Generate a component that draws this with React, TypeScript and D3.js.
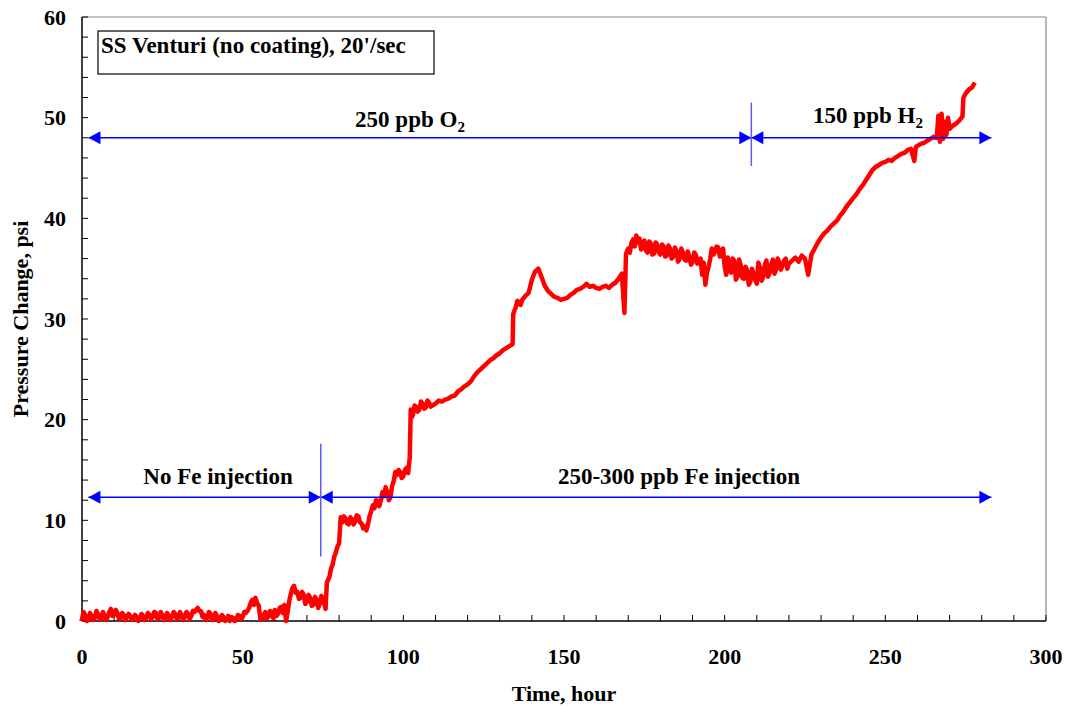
import React from "react";
import * as d3 from "d3";

const pressureSeries: [number, number][] = [
  [0, 0.2], [0.5, 0.9], [1, 0.6], [1.5, 0.0], [2, 0.1], [2.5, 0.8], [3, 0.5], [3.5, 0.1], [4, 0.3], [4.5, 1.0],
  [5, 0.7], [5.5, 0.2], [6, 0.2], [6.5, 0.9], [7, 0.5], [7.5, 0.1], [8, 0.4], [8.5, 0.9], [9, 1.2], [9.5, 0.5],
  [10, 0.6], [10.5, 1.1], [11, 0.8], [11.5, 0.2], [12, 0.3], [12.5, 0.8], [13, 0.6], [13.5, 0.1], [14, 0.4], [14.5, 0.7],
  [15, 0.5], [15.5, 0.1], [16, 0.3], [16.5, 0.6], [17, 0.4], [17.5, 0.0], [18, 0.2], [18.5, 0.7], [19, 0.5], [19.5, 0.1],
  [20, 0.3], [20.5, 0.8], [21, 0.6], [21.5, 0.2], [22, 0.4], [22.5, 0.9], [23, 0.8], [23.5, 0.2], [24, 0.3], [24.5, 0.9],
  [25, 0.6], [25.5, 0.1], [26, 0.2], [26.5, 0.8], [27, 0.5], [27.5, 0.1], [28, 0.4], [28.5, 0.9], [29, 0.7], [29.5, 0.2],
  [30, 0.3], [30.5, 0.9], [31, 0.6], [31.5, 0.1], [32, 0.4], [32.5, 0.9], [33, 0.7], [33.5, 0.2], [34, 0.5], [34.5, 1.0],
  [35, 0.9], [35.5, 1.1], [36, 1.3], [36.5, 1.0], [37, 1.0], [37.5, 0.4], [38, 0.6], [38.5, 0.1], [39, 0.3], [39.5, 0.9],
  [40, 0.7], [40.5, 0.1], [41, 0.2], [41.5, 0.8], [42, 0.5], [42.5, 0.0], [43, 0.1], [43.5, 0.6], [44, 0.4], [44.5, 0.0],
  [45, 0.2], [45.5, 0.5], [46, 0.0], [46.5, 0.4], [47, 0.3], [47.5, 0.0], [48, 0.1], [48.5, 0.6], [49, 0.5], [49.5, 0.2],
  [50, 0.4], [50.5, 0.9], [51, 0.8], [51.5, 1.0], [52, 1.3], [52.5, 1.8], [53, 2.1], [53.5, 1.6], [54, 2.3], [54.5, 1.8],
  [55, 1.5], [55.5, 0.2], [56, 0.6], [56.5, 0.2], [57, 0.9], [57.5, 0.3], [58, 0.4], [58.5, 1.0], [59, 0.8], [59.5, 0.3],
  [60, 1.1], [60.5, 0.5], [61, 0.7], [61.5, 1.3], [62, 1.4], [62.5, 0.8], [63, 1.6], [63.5, 0.0], [64, 0.9], [64.5, 2.0],
  [65, 2.7], [65.5, 3.3], [66, 3.5], [66.5, 2.8], [67, 2.9], [67.5, 2.2], [68, 2.3], [68.5, 2.9], [69, 2.6], [69.5, 1.7],
  [70, 1.9], [70.5, 2.6], [71, 2.3], [71.5, 1.5], [72, 1.6], [72.5, 2.4], [73, 2.1], [73.5, 1.3], [74, 1.7], [74.5, 2.5],
  [75, 2.2], [75.8, 1.2], [76.2, 3.8], [77, 4.4], [77.5, 5.2], [78, 5.6], [78.5, 6.4], [79, 6.8], [79.5, 7.4], [80, 7.7],
  [80.5, 10.3], [81, 9.8], [81.5, 10.4], [82, 10.2], [82.5, 9.7], [83, 9.6], [83.5, 10.3], [84, 10.1], [84.5, 9.6], [85, 9.9],
  [85.5, 10.5], [86, 10.4], [86.5, 9.8], [87, 9.7], [87.5, 9.2], [88, 9.4], [88.5, 9.0], [89, 9.6], [89.5, 10.4], [90, 10.9],
  [90.5, 11.5], [91, 11.2], [91.5, 12.0], [92, 11.9], [92.5, 11.4], [93, 12.0], [93.5, 12.8], [94, 12.4], [94.5, 13.3], [95, 12.8],
  [95.5, 12.0], [96, 12.3], [96.5, 13.4], [97, 13.9], [97.5, 14.8], [98, 14.5], [98.5, 15.0], [99, 14.8], [99.5, 14.2], [100, 14.4],
  [100.5, 15.0], [101, 15.2], [101.5, 14.7], [102, 16.3], [102.3, 21.0], [102.6, 20.2], [103, 20.5], [103.5, 21.4], [104, 21.3], [104.5, 20.8],
  [105, 21.0], [105.5, 21.8], [106, 21.6], [106.5, 21.1], [107, 21.2], [107.5, 21.9], [108, 21.7], [108.5, 21.3], [109, 21.4], [110, 21.6],
  [111, 21.9], [112, 21.8], [113, 22.0], [114, 22.1], [115, 22.3], [116, 22.4], [117, 22.8], [118, 23.0], [119, 23.3], [120, 23.5],
  [121, 23.8], [122, 24.3], [123, 24.7], [124, 25.0], [125, 25.3], [126, 25.6], [127, 25.9], [128, 26.1], [129, 26.4], [130, 26.6],
  [131, 26.9], [132, 27.1], [133, 27.3], [134, 27.5], [134.2, 30.5], [135, 31.2], [135.5, 31.8], [136, 31.7], [136.5, 31.4], [137, 31.9],
  [138, 32.3], [139, 32.6], [140, 33.9], [141, 34.7], [142, 35.0], [143, 34.2], [144, 33.3], [145, 32.8], [146, 32.5], [147, 32.2],
  [148, 32.1], [149, 31.9], [150, 32.0], [151, 32.1], [152, 32.4], [153, 32.6], [154, 32.9], [155, 33.0], [156, 33.2], [157, 33.5],
  [158, 33.2], [159, 33.3], [160, 33.1], [161, 33.0], [162, 33.2], [163, 33.3], [164, 33.1], [165, 33.4], [166, 33.6], [167, 34.0],
  [168, 34.5], [168.8, 30.6], [169.3, 36.5], [170, 37.0], [170.5, 36.6], [171, 37.6], [171.5, 37.9], [172, 37.2], [172.5, 38.3], [173, 37.6],
  [173.5, 38.0], [174, 36.9], [174.5, 37.2], [175, 37.8], [175.5, 36.8], [176, 36.6], [176.5, 37.7], [177, 37.5], [177.5, 36.4], [178, 36.5],
  [178.5, 37.6], [179, 37.4], [179.5, 36.6], [180, 36.4], [180.5, 37.4], [181, 37.2], [181.5, 36.2], [182, 36.3], [182.5, 37.3], [183, 37.0],
  [183.5, 36.0], [184, 36.2], [184.5, 37.1], [185, 36.8], [185.5, 35.7], [186, 36.0], [186.5, 37.0], [187, 36.6], [187.5, 35.9], [188, 35.8],
  [188.5, 36.7], [189, 36.2], [189.5, 35.4], [190, 35.6], [190.5, 36.6], [191, 36.4], [191.5, 35.5], [192, 35.9], [192.5, 36.0], [193, 34.4],
  [193.5, 35.6], [194, 33.4], [194.5, 34.6], [195, 35.2], [195.5, 36.0], [196, 37.0], [196.5, 36.4], [197, 36.7], [197.5, 37.2], [198, 37.1],
  [198.5, 36.2], [199, 36.6], [199.5, 37.0], [200, 35.2], [200.5, 34.4], [201, 36.1], [201.5, 35.2], [202, 34.6], [202.5, 36.0], [203, 35.8],
  [203.5, 33.9], [204, 34.2], [204.5, 35.9], [205, 35.3], [205.5, 34.1], [206, 34.0], [206.5, 35.2], [207, 34.8], [207.5, 33.4], [208, 33.7],
  [208.5, 35.0], [209, 34.5], [209.5, 33.9], [210, 33.5], [210.5, 35.6], [211, 35.1], [211.5, 33.8], [212, 34.2], [212.5, 35.4], [213, 35.8],
  [213.5, 34.2], [214, 34.6], [214.5, 35.4], [215, 35.9], [215.5, 34.5], [216, 34.9], [216.5, 36.0], [217, 35.6], [217.5, 34.9], [218, 35.3],
  [218.5, 35.8], [219, 36.0], [219.5, 35.0], [220, 35.5], [221, 35.8], [222, 36.1], [223, 35.7], [224, 36.3], [225, 36.0], [226, 34.4],
  [227, 36.4], [228, 37.0], [229, 37.6], [230, 38.1], [231, 38.5], [232, 38.8], [233, 39.2], [234, 39.5], [235, 39.8], [236, 40.3],
  [237, 40.7], [238, 41.2], [239, 41.6], [240, 42.0], [241, 42.4], [242, 42.9], [243, 43.3], [244, 43.8], [245, 44.3], [246, 44.8],
  [247, 45.1], [248, 45.3], [249, 45.5], [250, 45.6], [251, 45.8], [252, 45.7], [253, 46.0], [254, 46.2], [255, 46.4], [256, 46.5],
  [257, 46.8], [258, 46.9], [259, 45.7], [259.5, 47.1], [260, 47.2], [261, 47.4], [262, 47.5], [263, 47.7], [264, 47.9], [265, 48.1],
  [266, 48.0], [266.5, 50.2], [267, 47.6], [267.5, 50.4], [268, 47.9], [268.5, 49.6], [269, 48.3], [269.5, 50.0], [270, 48.9], [271, 49.2],
  [272, 49.4], [273, 49.7], [274, 50.1], [274.3, 52.0], [275, 52.4], [276, 52.8], [277, 53.0], [277.5, 53.3],
];

const xTicks = [0, 50, 100, 150, 200, 250, 300];
const yTicks = [0, 10, 20, 30, 40, 50, 60];

// annotation spans: [start, end, level]
const spanO2: [number, number, number] = [2, 208.3, 48];
const spanH2: [number, number, number] = [208.3, 283, 48];
const spanNoFe: [number, number, number] = [2, 74.3, 12.3];
const spanFe: [number, number, number] = [74.3, 283, 12.3];
const dividerO2: [number, number, number] = [208.3, 45.2, 51.5];
const dividerFe: [number, number, number] = [74.3, 6.4, 17.6];

const legendLabel = "SS Venturi (no coating), 20'/sec";

export default function App() {
  const W = 1067, H = 707;
  const x = d3.scaleLinear().domain([0, 300]).range([82, 1046]);
  const y = d3.scaleLinear().domain([0, 60]).range([621, 17]);
  const line = d3.line<[number, number]>().x(d => x(d[0])).y(d => y(d[1]));
  const font = "'Liberation Serif', 'Times New Roman', serif";
  const blue = "#0000ff";
  const lightBlue = "#5a5aff";

  const arrowHead = (tipX: number, tipY: number, dir: number) => {
    const L = 12, h = 6.5;
    return `M${tipX},${tipY} L${tipX - dir * L},${tipY - h} L${tipX - dir * L},${tipY + h} Z`;
  };

  const span = (s: [number, number, number], key: string) => {
    const x1 = x(s[0]), x2 = x(s[1]), yy = y(s[2]);
    return (
      <g key={key}>
        <line x1={x1} x2={x2} y1={yy} y2={yy} stroke={blue} strokeWidth={1.5} />
        <path d={arrowHead(x1, yy, -1)} fill={blue} />
        <path d={arrowHead(x2, yy, 1)} fill={blue} />
      </g>
    );
  };

  const minorX = d3.range(0, 301, 10);
  const minorY = d3.range(0, 61, 2);

  return (
    <svg width={W} height={H} style={{ position: "absolute", left: 0, top: 0, background: "#fff" }} fontFamily={font}>
      <rect x={0} y={0} width={W} height={H} fill="#fff" />
      {/* frame */}
      <line x1={x(0)} x2={x(300)} y1={y(60)} y2={y(60)} stroke="#888" strokeWidth={1.2} />
      <line x1={x(300)} x2={x(300)} y1={y(60)} y2={y(0)} stroke="#888" strokeWidth={1.2} />
      {/* axes */}
      <line x1={x(0)} x2={x(300)} y1={y(0)} y2={y(0)} stroke="#000" strokeWidth={1.5} />
      <line x1={x(0)} x2={x(0)} y1={y(0)} y2={y(60)} stroke="#000" strokeWidth={1.5} />
      {minorX.map(t => (
        <line key={"mx" + t} x1={x(t)} x2={x(t)} y1={y(0)} y2={y(0) - 6} stroke="#000" strokeWidth={1} />
      ))}
      {minorY.map(t => (
        <line key={"my" + t} x1={x(0)} x2={x(0) + 6} y1={y(t)} y2={y(t)} stroke="#000" strokeWidth={1} />
      ))}
      {xTicks.map(t => (
        <text key={"xt" + t} x={x(t)} y={664} textAnchor="middle" fontSize={22} fontWeight="bold">{t}</text>
      ))}
      {yTicks.map(t => (
        <text key={"yt" + t} x={66} y={y(t) + 7.5} textAnchor="end" fontSize={22} fontWeight="bold">{t}</text>
      ))}
      <text x={564} y={701} textAnchor="middle" fontSize={22} fontWeight="bold">Time, hour</text>
      <text transform={`translate(28, ${y(30)}) rotate(-90)`} textAnchor="middle" fontSize={22} fontWeight="bold">
        Pressure Change, psi
      </text>

      {/* data */}
      <path d={line(pressureSeries) || ""} fill="none" stroke="#ff0000" strokeWidth={4.5} strokeLinejoin="round" strokeLinecap="square" />

      {/* legend box */}
      <rect x={98} y={31} width={336} height={43} fill="#fff" stroke="#000" strokeWidth={1.2} />
      <text x={101} y={53} fontSize={23} fontWeight="bold">{legendLabel}</text>

      {/* annotations */}
      {span(spanO2, "o2")}
      {span(spanH2, "h2")}
      {span(spanNoFe, "nofe")}
      {span(spanFe, "fe")}
      <line x1={x(dividerO2[0])} x2={x(dividerO2[0])} y1={y(dividerO2[1])} y2={y(dividerO2[2])} stroke={lightBlue} strokeWidth={1.5} />
      <line x1={x(dividerFe[0])} x2={x(dividerFe[0])} y1={y(dividerFe[1])} y2={y(dividerFe[2])} stroke={lightBlue} strokeWidth={1.5} />

      <text x={410} y={127} textAnchor="middle" fontSize={23} fontWeight="bold">
        250 ppb O<tspan fontSize={15} dy={5}>2</tspan>
      </text>
      <text x={868} y={123} textAnchor="middle" fontSize={23} fontWeight="bold">
        150 ppb H<tspan fontSize={15} dy={5}>2</tspan>
      </text>
      <text x={218} y={484} textAnchor="middle" fontSize={23} fontWeight="bold">No Fe injection</text>
      <text x={679} y={484} textAnchor="middle" fontSize={23} fontWeight="bold">250-300 ppb Fe injection</text>
    </svg>
  );
}
